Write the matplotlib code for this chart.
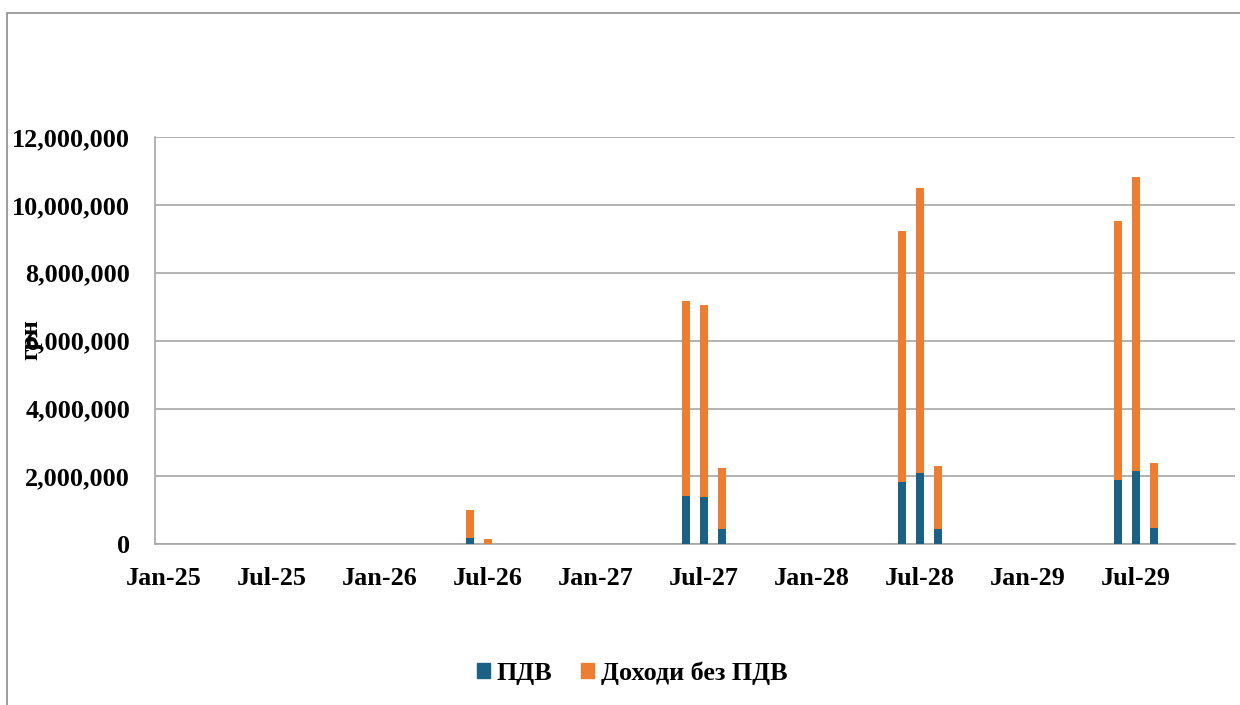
import matplotlib
matplotlib.use("Agg")
import matplotlib.pyplot as plt
from matplotlib.patches import Rectangle, Patch
import numpy as np

# Month labels of the bars and their values (UAH)
months = ["Jun-26", "Jul-26", "Jun-27", "Jul-27", "Aug-27",
          "Jun-28", "Jul-28", "Aug-28", "Jun-29", "Jul-29", "Aug-29"]
totals = [1020000, 150000, 7180000, 7050000, 2240000,
          9240000, 10490000, 2320000, 9530000, 10830000, 2390000]
pdv = [185000, 20000, 1420000, 1390000, 440000,
       1850000, 2090000, 450000, 1900000, 2150000, 470000]
income_no_pdv = [t - p for t, p in zip(totals, pdv)]

tick_labels = ["Jan-25", "Jul-25", "Jan-26", "Jul-26", "Jan-27",
               "Jul-27", "Jan-28", "Jul-28", "Jan-29", "Jul-29"]
y_ticks = [0, 2000000, 4000000, 6000000, 8000000, 10000000, 12000000]

series_names = ["ПДВ", "Доходи без ПДВ"]
colors = ["#1B6185", "#ED7D31"]

mon_abbr = ["Jan", "Feb", "Mar", "Apr", "May", "Jun", "Jul", "Aug", "Sep", "Oct", "Nov", "Dec"]
def month_index(lbl):
    m, y = lbl.split("-")
    return (int(y) - 25) * 12 + mon_abbr.index(m)

x = np.array([month_index(m) for m in months])
tick_pos = [month_index(t) for t in tick_labels]

plt.rcParams['font.family'] = ['Liberation Serif', 'DejaVu Serif']
plt.rcParams['font.weight'] = 'bold'

fig = plt.figure(figsize=(12.4, 7.05), dpi=100)
ax = fig.add_axes([155/1240, (705-544.3)/705, (1235-155)/1240, (544.3-137)/705])

w = 0.39
ax.bar(x, pdv, width=w, color=colors[0], zorder=3)
ax.bar(x, income_no_pdv, width=w, bottom=pdv, color=colors[1], zorder=3)

ax.set_xlim(-0.5, 59.5)
ax.set_ylim(0, 12000000)
ax.set_yticks(y_ticks)
ax.set_yticklabels([f"{v:,}" for v in y_ticks])
ax.set_xticks(tick_pos)
ax.set_xticklabels(tick_labels)
ax.tick_params(axis='both', length=0, labelsize=18.8)
ax.tick_params(axis='y', pad=18)
ax.tick_params(axis='x', pad=16)
for lbl in ax.get_xticklabels() + ax.get_yticklabels():
    lbl.set_fontweight('bold')

ax.grid(axis='y', color='#A6A6A6', linewidth=1.2, zorder=0)
for s in ['top', 'right']:
    ax.spines[s].set_visible(False)
for s in ['left', 'bottom']:
    ax.spines[s].set_color('#A6A6A6')
    ax.spines[s].set_linewidth(1.2)

fig.text(31/1240, (705-340)/705, "грн", rotation=90, ha='center', va='center',
         fontsize=18.5, fontweight='bold')

handles = [Patch(facecolor=c, edgecolor=c) for c in colors]
fig.legend(handles, series_names, loc='center', bbox_to_anchor=(632/1240, (705-673)/705),
           ncol=2, frameon=False, handlelength=0.5, handleheight=0.5,
           handletextpad=0.25, columnspacing=1.1, prop={'weight': 'bold', 'size': 18.8})

fig.patches.append(Rectangle((7/1240, -0.05), 1.2, (705-13)/705 + 0.05, transform=fig.transFigure,
                             fill=False, edgecolor='#8C8C8C', linewidth=1.2))

fig.savefig("out.png", dpi=100)
